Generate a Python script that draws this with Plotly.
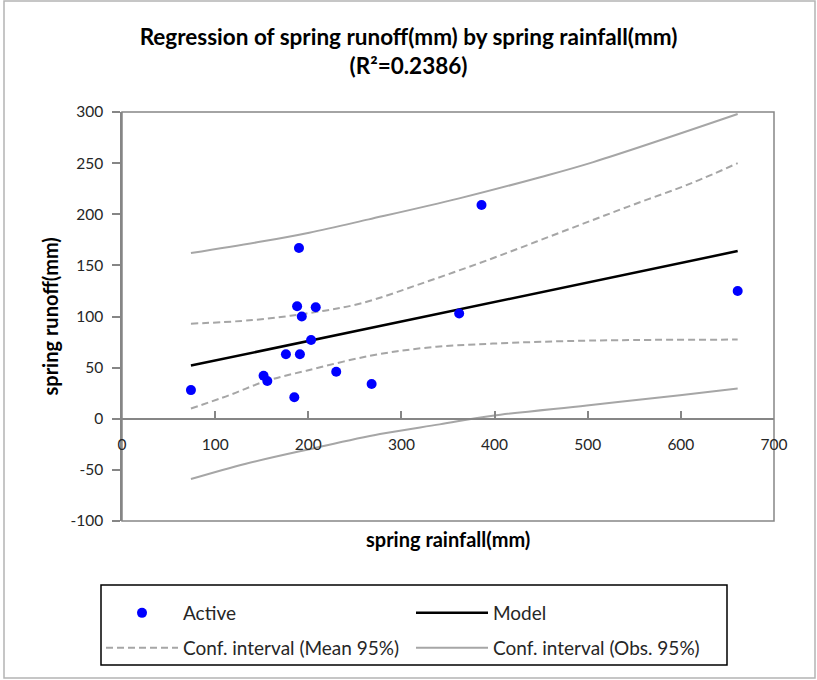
import plotly.graph_objects as go

# ---- data ----
rain = [74, 152, 156, 176, 191, 185, 190, 188, 193, 208, 203, 230, 268, 362, 386, 661]
runoff = [28, 42, 37, 63, 63, 21, 167, 110, 100, 109, 77, 46, 34, 103, 209, 125]

model_x = [74, 661]
model_y = [52, 164]

mean_up_x = [74, 140, 198, 255, 327, 398, 470, 542, 613, 661]
mean_up_y = [93, 96.5, 103, 112.5, 134, 157, 182, 207, 231, 250]
mean_lo_x = [74, 115, 155, 198, 266, 327, 398, 506, 661]
mean_lo_y = [10, 23, 37, 47, 61.5, 69.5, 73.5, 76.5, 77.4]

obs_up_x = [74, 148, 201, 265, 362, 448, 506, 661]
obs_up_y = [162, 173, 182, 195, 215.5, 236, 251, 298]
obs_lo_x = [74, 133, 205, 277, 341, 398, 499, 599, 661]
obs_lo_y = [-59, -44, -29, -15, -5.5, 3, 13, 23, 29.6]

x_ticks = [0, 100, 200, 300, 400, 500, 600, 700]
y_ticks = [-100, -50, 0, 50, 100, 150, 200, 250, 300]
y_ticklabels = ["-100", "-50", "0", "50", "100", "150", "200", "250", "300"]

title_text = "<b>Regression of spring runoff(mm) by spring rainfall(mm)<br>(R²=0.2386)</b>"
x_title = "spring rainfall(mm)"
y_title = "spring runoff(mm)"

FONT = "Lato"
GRAY = "#A6A6A6"
AXIS = "#868686"
TXT = "#262626"

W, H = 817, 680
ML, MR, MT, MB = 122, 43, 112, 159

fig = go.Figure()

fig.add_trace(go.Scatter(x=mean_up_x, y=mean_up_y, mode="lines",
                         line=dict(color=GRAY, width=2, dash="7px,4px", shape="spline"),
                         name="Conf. interval (Mean 95%)", legendgroup="mean", legend="legend2", legendrank=1))
fig.add_trace(go.Scatter(x=mean_lo_x, y=mean_lo_y, mode="lines",
                         line=dict(color=GRAY, width=2, dash="7px,4px", shape="spline"),
                         name="Conf. interval (Mean 95%)", legendgroup="mean", legend="legend2", showlegend=False))
fig.add_trace(go.Scatter(x=obs_up_x, y=obs_up_y, mode="lines",
                         line=dict(color=GRAY, width=2, shape="spline"),
                         name="Conf. interval (Obs. 95%)", legendgroup="obs", legend="legend2", legendrank=2))
fig.add_trace(go.Scatter(x=obs_lo_x, y=obs_lo_y, mode="lines",
                         line=dict(color=GRAY, width=2, shape="spline"),
                         name="Conf. interval (Obs. 95%)", legendgroup="obs", legend="legend2", showlegend=False))
fig.add_trace(go.Scatter(x=model_x, y=model_y, mode="lines", line=dict(color="black", width=2.5),
                         name="Model", legend="legend", legendrank=2))
fig.add_trace(go.Scatter(x=rain, y=runoff, mode="markers", marker=dict(color="#0000FF", size=10),
                         name="Active", legend="legend", legendrank=1))

pw = W - ML - MR
ph = H - MT - MB


def px_x(p):
    return (p - ML) / pw


def px_y(q):
    return (H - MB - q) / ph


legend_common = dict(orientation="h", xref="container", yref="container",
                     xanchor="left", yanchor="middle", borderwidth=0,
                     bgcolor="rgba(0,0,0,0)", entrywidth=223, entrywidthmode="pixels",
                     itemwidth=72, font=dict(family=FONT, size=19, color=TXT), traceorder="normal")

fig.update_layout(
    width=W, height=H,
    margin=dict(l=ML, r=MR, t=MT, b=MB),
    paper_bgcolor="white", plot_bgcolor="white",
    font=dict(family=FONT, size=15.5, color=TXT),
    title=dict(text=title_text, x=0.5, xref="container", xanchor="center",
               y=1 - 45 / H, yref="container", yanchor="middle",
               font=dict(family=FONT, size=22.5, color="black")),
    xaxis=dict(range=[0, 700], tickvals=x_ticks, showgrid=False, zeroline=False,
               anchor="free", position=0.25, showline=True, linecolor=AXIS, linewidth=1.5,
               ticks="inside", ticklen=7, tickcolor=AXIS, tickwidth=1.5, ticklabelstandoff=12,
               tickfont=dict(family=FONT, size=15.5, color=TXT)),
    yaxis=dict(range=[-100, 300], tickvals=y_ticks, ticktext=y_ticklabels, showgrid=False, zeroline=False,
               showline=True, linecolor=AXIS, linewidth=1.5,
               ticks="outside", ticklen=8, tickcolor=AXIS, tickwidth=1.5, ticklabelstandoff=6,
               tickfont=dict(family=FONT, size=15.5, color=TXT)),
    legend=dict(legend_common, x=101 / W, y=1 - 613 / H),
    legend2=dict(legend_common, x=101 / W, y=1 - 648 / H),
    shapes=[
        dict(type="rect", xref="paper", yref="paper", x0=0, x1=1, y0=0, y1=1,
             line=dict(color=AXIS, width=1.5), layer="below"),
        dict(type="rect", xref="paper", yref="paper", x0=px_x(4), x1=px_x(815), y0=px_y(678), y1=px_y(1),
             line=dict(color="#B4B4B4", width=1.5), layer="below"),
        dict(type="rect", xref="paper", yref="paper", x0=px_x(101), x1=px_x(727), y0=px_y(665), y1=px_y(585),
             line=dict(color="black", width=1.5), layer="below"),
    ],
    annotations=[
        dict(text=f"<b>{x_title}</b>", xref="paper", yref="paper", x=0.5, y=px_y(539),
             showarrow=False, xanchor="center", yanchor="middle",
             font=dict(family=FONT, size=20, color="black")),
        dict(text=f"<b>{y_title}</b>", xref="paper", yref="paper", x=px_x(49), y=0.5,
             showarrow=False, textangle=-90, xanchor="center", yanchor="middle",
             font=dict(family=FONT, size=20, color="black")),
    ],
)

fig.write_html("out.html")
